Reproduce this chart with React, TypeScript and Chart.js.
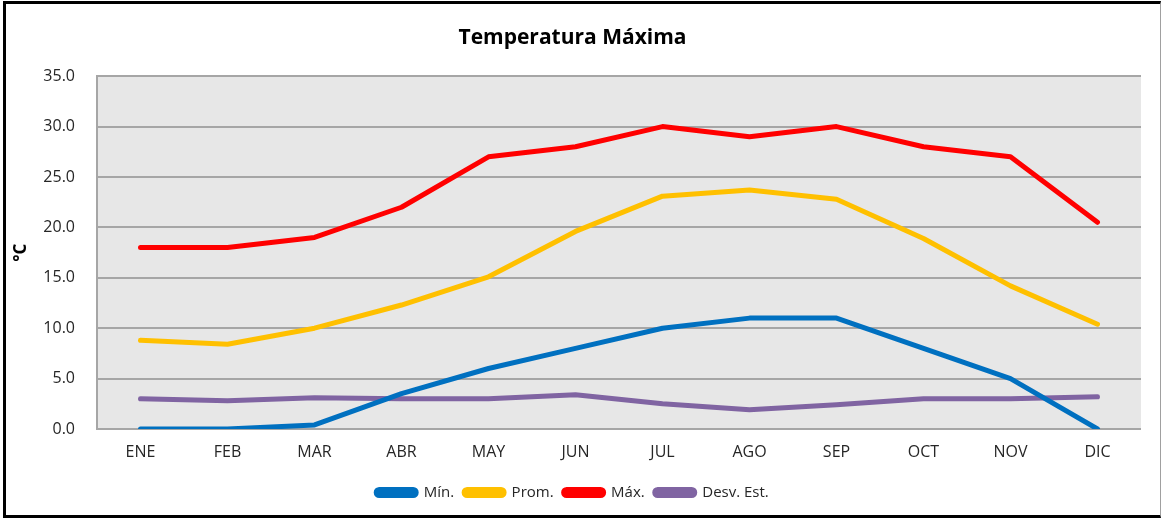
import React, { useEffect, useRef } from "react";
import { Chart, registerables } from "chart.js";

Chart.register(...registerables);

const months = ["ENE", "FEB", "MAR", "ABR", "MAY", "JUN", "JUL", "AGO", "SEP", "OCT", "NOV", "DIC"];
const minValues = [0.0, 0.0, 0.4, 3.5, 6.0, 8.0, 10.0, 11.0, 11.0, 8.0, 5.0, 0.0];
const promValues = [8.8, 8.4, 10.0, 12.3, 15.1, 19.6, 23.1, 23.7, 22.8, 18.9, 14.2, 10.4];
const maxValues = [18.0, 18.0, 19.0, 22.0, 27.0, 28.0, 30.0, 29.0, 30.0, 28.0, 27.0, 20.5];
const desvValues = [3.0, 2.8, 3.1, 3.0, 3.0, 3.4, 2.5, 1.9, 2.4, 3.0, 3.0, 3.2];

const FONT = "'Open Sans', 'DejaVu Sans', sans-serif";

const plotBg = {
  id: "plotBg",
  beforeDraw(chart: any) {
    const { ctx, chartArea } = chart;
    if (!chartArea) return;
    ctx.save();
    ctx.fillStyle = "#e7e7e7";
    ctx.fillRect(chartArea.left, chartArea.top, chartArea.right - chartArea.left, chartArea.bottom - chartArea.top);
    ctx.restore();
  },
};

export default function App() {
  const ref = useRef<HTMLCanvasElement>(null);

  useEffect(() => {
    if (!ref.current) return;
    const mk = (label: string, data: number[], color: string) => ({
      label,
      data,
      borderColor: color,
      backgroundColor: color,
      borderWidth: 5,
      pointRadius: 0,
      pointHoverRadius: 0,
      tension: 0,
      borderCapStyle: "round" as const,
      borderJoinStyle: "round" as const,
      fill: false,
    });
    const chart = new Chart(ref.current, {
      type: "line",
      data: {
        labels: months,
        datasets: [
          mk("Mín.", minValues, "#0070c0"),
          mk("Prom.", promValues, "#ffc000"),
          mk("Máx.", maxValues, "#ff0000"),
          mk("Desv. Est.", desvValues, "#8064a2"),
        ],
      },
      options: {
        responsive: false,
        animation: false,
        layout: { padding: { left: 4, right: 21, top: 4, bottom: 9 } },
        plugins: {
          title: {
            display: true,
            text: "Temperatura Máxima",
            color: "#000",
            font: { family: FONT, size: 21, weight: "bold" },
            padding: { top: 21, bottom: 26 },
          },
          legend: {
            position: "bottom",
            labels: {
              boxWidth: 40,
              boxHeight: 6,
              useBorderRadius: true,
              borderRadius: 3,
              color: "#262626",
              font: { family: FONT, size: 15 },
              padding: 10,
            },
          },
          tooltip: { enabled: false },
        },
        scales: {
          x: {
            offset: true,
            grid: { display: false },
            border: { display: false },
            ticks: {
              color: "#262626",
              font: { family: FONT, size: 16 },
              padding: 6,
              maxRotation: 0,
            },
            afterFit(scale: any) {
              scale.height = 46;
            },
          },
          y: {
            min: 0,
            max: 35,
            ticks: {
              stepSize: 5,
              color: "#262626",
              font: { family: FONT, size: 16 },
              padding: 22,
              callback: (v: any) => Number(v).toFixed(1),
            },
            grid: { color: "#a6a6a6", lineWidth: 2, drawTicks: false },
            border: { display: true, color: "#a6a6a6", width: 2 },
            title: {
              display: true,
              text: "°C",
              color: "#000",
              font: { family: FONT, size: 17, weight: "bold" },
              padding: { top: 7, bottom: 0 },
            },
            afterFit(scale: any) {
              scale.width = 93;
            },
          },
        },
      },
      plugins: [plotBg],
    });
    return () => chart.destroy();
  }, []);

  return (
    <div style={{ position: "fixed", left: 0, top: 0, width: 1162, height: 519, background: "#fff" }}>
      <canvas ref={ref} width={1162} height={519} style={{ position: "absolute", left: 0, top: 0 }} />
      <div
        style={{
          position: "absolute",
          left: 3,
          top: 1,
          width: 1158,
          height: 517,
          boxSizing: "border-box",
          borderTop: "3px solid #000",
          borderLeft: "3px solid #000",
          borderBottom: "3px solid #000",
          borderRight: "1px solid #a0a0a0",
          pointerEvents: "none",
        }}
      />
    </div>
  );
}
